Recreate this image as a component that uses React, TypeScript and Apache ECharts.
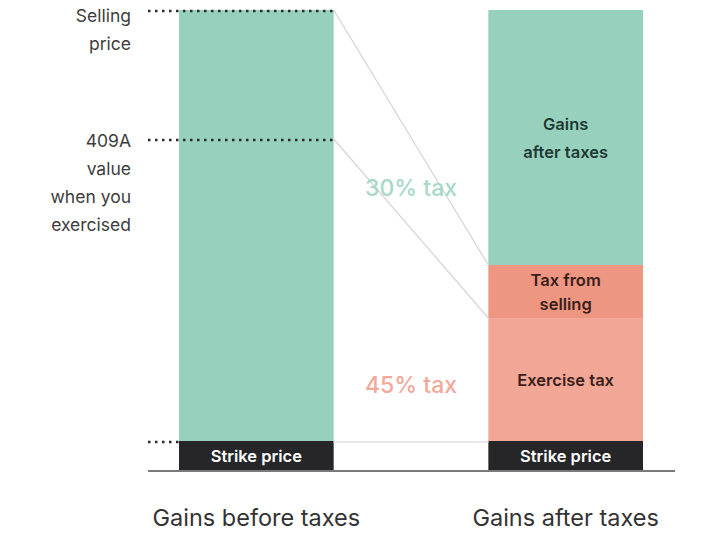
import React, { useEffect, useRef } from "react";
import * as echarts from "echarts";

const categories = ["Gains before taxes", "", "Gains after taxes"];
const strikePrice = [2.9, null, 2.9];
const gainsBeforeTaxes = [43.1, null, null];
const exerciseTax = [null, null, 12.3];
const taxFromSelling = [null, null, 5.3];
const gainsAfterTaxes = [null, null, 25.5];

const levelValues = [46, 33.1, 2.9];
const levelLabels = ["Selling\nprice", "409A\nvalue\nwhen you\nexercised", ""];
const levelLabelOffsets = [-9, -13, 0];
const taxLabels = ["30% tax", "45% tax"];

const FONT = "Inter, 'Noto Sans', sans-serif";
const GREEN = "#97d0bc";
const DARK = "#262628";
const SALMON_LIGHT = "#f2a696";
const SALMON_DARK = "#ee9682";

export default function App() {
  const ref = useRef<HTMLDivElement>(null);
  useEffect(() => {
    if (!ref.current) return;
    const chart = echarts.init(ref.current, null, { renderer: "svg" });
    const inLabel = (color: string, lh: number) => ({
      show: true,
      position: "inside",
      color,
      fontFamily: FONT,
      fontSize: 16.5,
      fontWeight: 600,
      lineHeight: lh,
    });
    chart.setOption({
      animation: false,
      grid: { left: 179, right: 77, top: 10, bottom: 63 },
      xAxis: {
        type: "category",
        data: categories,
        axisLine: { show: false },
        axisTick: { show: false },
        axisLabel: {
          margin: 35,
          fontFamily: FONT,
          fontSize: 23.5,
          color: "#333",
          interval: 0,
        },
      },
      yAxis: {
        type: "value",
        min: 0,
        max: 46,
        show: false,
        splitLine: { show: false },
      },
      series: [
        {
          name: "Strike price",
          type: "bar",
          stack: "s",
          barWidth: "100%",
          data: strikePrice,
          itemStyle: { color: DARK },
          label: { ...inLabel("#ffffff", 20), formatter: "Strike price" },
        },
        {
          name: "Gains before taxes",
          type: "bar",
          stack: "s",
          barWidth: "100%",
          data: gainsBeforeTaxes,
          itemStyle: { color: GREEN },
        },
        {
          name: "Exercise tax",
          type: "bar",
          stack: "s",
          barWidth: "100%",
          data: exerciseTax,
          itemStyle: { color: SALMON_LIGHT },
          label: { ...inLabel("#3a1f19", 20), formatter: "Exercise tax" },
        },
        {
          name: "Tax from selling",
          type: "bar",
          stack: "s",
          barWidth: "100%",
          data: taxFromSelling,
          itemStyle: { color: SALMON_DARK },
          label: { ...inLabel("#3a1f19", 24), formatter: "Tax from\nselling" },
        },
        {
          name: "Gains after taxes",
          type: "bar",
          stack: "s",
          barWidth: "100%",
          data: gainsAfterTaxes,
          itemStyle: { color: GREEN },
          label: { ...inLabel("#1d3a33", 28), formatter: "Gains\nafter taxes" },
        },
      ],
    });

    const c0 = chart.convertToPixel({ xAxisIndex: 0 }, 0) as number;
    const c1 = chart.convertToPixel({ xAxisIndex: 0 }, 1) as number;
    const c2 = chart.convertToPixel({ xAxisIndex: 0 }, 2) as number;
    const band = c1 - c0;
    const leftBarL = c0 - band / 2;
    const leftBarR = c0 + band / 2;
    const rightBarL = c2 - band / 2;
    const midX = c1;
    const py = (v: number) => chart.convertToPixel({ yAxisIndex: 0 }, v) as number;
    const yZero = py(0);
    const ySell = py(levelValues[0]);
    const y409 = py(levelValues[1]);
    const yStrike = py(levelValues[2]);
    const yExTop = py(strikePrice[2]! + exerciseTax[2]!);
    const ySellTaxTop = py(strikePrice[2]! + exerciseTax[2]! + taxFromSelling[2]!);

    const dotStart = leftBarL - 31;
    const dotted = (y: number, x2: number) => ({
      type: "line",
      z: 100,
      shape: { x1: dotStart, y1: y + 1, x2, y2: y + 1 },
      style: { stroke: "#2b2b2b", lineWidth: 2.5, lineDash: [2.5, 4.5] },
    });

    const graphics: any[] = [
      {
        type: "line",
        z: 50,
        shape: { x1: leftBarR, y1: ySell, x2: rightBarL, y2: ySellTaxTop },
        style: { stroke: "#d4d4d4", lineWidth: 1.2 },
      },
      {
        type: "line",
        z: 50,
        shape: { x1: leftBarR, y1: y409, x2: rightBarL, y2: yExTop },
        style: { stroke: "#d4d4d4", lineWidth: 1.2 },
      },
      {
        type: "line",
        z: 50,
        shape: { x1: leftBarR, y1: yStrike + 1, x2: rightBarL, y2: yStrike + 1 },
        style: { stroke: "#e8e8e8", lineWidth: 2 },
      },
      dotted(ySell, leftBarR),
      dotted(y409, leftBarR),
      dotted(yStrike, leftBarL),
      {
        type: "line",
        z: 100,
        shape: { x1: dotStart, y1: yZero + 1, x2: 675, y2: yZero + 1 },
        style: { stroke: "#7a7a7a", lineWidth: 2 },
      },
      {
        type: "text",
        z: 100,
        x: midX,
        y: 188,
        style: {
          text: taxLabels[0],
          align: "center",
          verticalAlign: "middle",
          fill: "#a8d8c6",
          font: `500 23px ${FONT}`,
        },
      },
      {
        type: "text",
        z: 100,
        x: midX,
        y: 385,
        style: {
          text: taxLabels[1],
          align: "center",
          verticalAlign: "middle",
          fill: "#f1a999",
          font: `500 23px ${FONT}`,
        },
      },
    ];
    levelLabels.forEach((t, i) => {
      if (!t) return;
      graphics.push({
        type: "text",
        z: 100,
        x: 131,
        y: py(levelValues[i]) + levelLabelOffsets[i],
        style: {
          text: t,
          align: "right",
          verticalAlign: "top",
          lineHeight: 28,
          fill: "#3d3d3d",
          font: `400 17.5px ${FONT}`,
        },
      });
    });
    chart.setOption({ graphic: graphics });
    return () => chart.dispose();
  }, []);
  return (
    <div
      ref={ref}
      style={{ position: "fixed", left: 0, top: 0, width: 720, height: 533, background: "#fff" }}
    />
  );
}
